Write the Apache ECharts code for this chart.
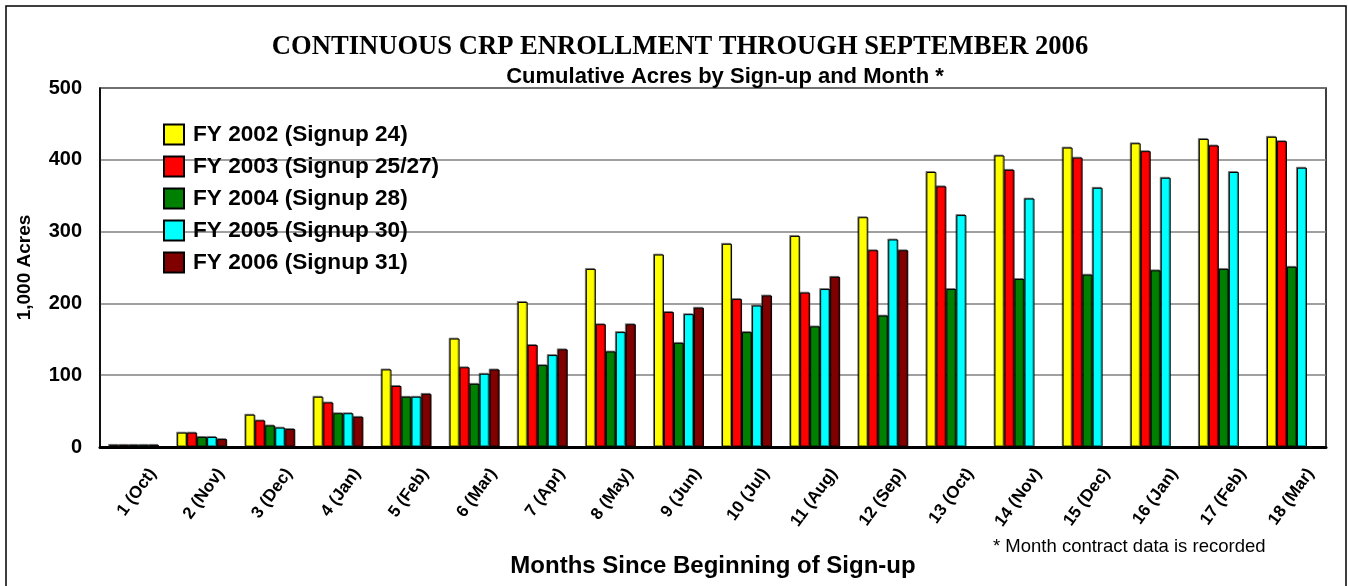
<!DOCTYPE html>
<html>
<head>
<meta charset="utf-8">
<script src="https://cdn.jsdelivr.net/npm/echarts@6/dist/echarts.min.js"></script>
<style>
  html, body { margin: 0; padding: 0; background: #fff; }
  #main { width: 1348px; height: 586px; }
</style>
</head>
<body>
<div id="main"></div>
<script>
var months = ['1 (Oct)', '2 (Nov)', '3 (Dec)', '4 (Jan)', '5 (Feb)', '6 (Mar)', '7 (Apr)', '8 (May)', '9 (Jun)',
  '10 (Jul)', '11 (Aug)', '12 (Sep)', '13 (Oct)', '14 (Nov)', '15 (Dec)', '16 (Jan)', '17 (Feb)', '18 (Mar)'];
var fy2002 = [3, 20, 45, 70, 108, 151, 202, 248, 268, 283, 294, 320, 383, 406, 417, 423, 429, 432];
var fy2003 = [3, 20, 37, 62, 85, 111, 142, 171, 188, 206, 215, 274, 363, 386, 403, 412, 420, 426];
var fy2004 = [3, 14, 30, 47, 70, 88, 114, 133, 145, 160, 168, 183, 220, 234, 240, 246, 248, 251];
var fy2005 = [3, 14, 27, 47, 70, 102, 128, 160, 185, 197, 220, 289, 323, 346, 361, 375, 383, 389];
var fy2006 = [3, 11, 25, 42, 74, 108, 136, 171, 194, 211, 237, 274, null, null, null, null, null, null];
var seriesNames = ['FY 2002 (Signup 24)', 'FY 2003 (Signup 25/27)', 'FY 2004 (Signup 28)',
  'FY 2005 (Signup 30)', 'FY 2006 (Signup 31)'];
var colors = ['#ffff00', '#ff0000', '#008000', '#00ffff', '#800000'];
var yTicks = [0, 100, 200, 300, 400, 500];

var chartDom = document.getElementById('main');
var myChart = echarts.init(chartDom);
var option;

var font = 'Liberation Sans, Arial, sans-serif';
var allData = [fy2002, fy2003, fy2004, fy2005, fy2006];

function makeSeries(i) {
  return {
    name: seriesNames[i],
    type: 'bar',
    data: allData[i],
    barWidth: 10,
    barGap: '0%',
    itemStyle: {
      color: colors[i],
      borderColor: '#000',
      borderWidth: 1,
      shadowColor: 'rgba(0,0,0,0.4)',
      shadowOffsetX: -1,
      shadowOffsetY: -1
    }
  };
}

option = {
  animation: false,
  title: [
    {
      text: 'CONTINUOUS CRP ENROLLMENT THROUGH SEPTEMBER 2006',
      left: 675,
      textAlign: 'center',
      top: 29,
      textStyle: { fontFamily: 'Liberation Serif, Times New Roman, serif', fontWeight: 'bold', fontSize: 26.6, color: '#000' }
    },
    {
      text: 'Cumulative Acres by Sign-up and Month *',
      left: 720,
      textAlign: 'center',
      top: 61,
      textStyle: { fontFamily: font, fontWeight: 'bold', fontSize: 22, color: '#000' }
    }
  ],
  legend: {
    orient: 'vertical',
    left: 158,
    top: 118,
    itemWidth: 20,
    itemHeight: 20,
    itemGap: 9,
    icon: 'rect',
    data: seriesNames,
    textStyle: { fontFamily: font, fontWeight: 'bold', fontSize: 22.6, lineHeight: 22, padding: [0, 0, 0, 4], color: '#000' }
  },
  grid: {
    left: 100,
    top: 88,
    width: 1226,
    height: 359,
    outerBoundsMode: 'none',
    show: true,
    borderColor: '#000',
    borderWidth: 1.5,
    backgroundColor: 'transparent'
  },
  xAxis: {
    type: 'category',
    data: months,
    name: 'Months Since Beginning of Sign-up',
    nameLocation: 'middle',
    nameGap: 107,
    nameTextStyle: { fontFamily: font, fontWeight: 'bold', fontSize: 24, color: '#000' },
    axisLine: { lineStyle: { color: '#000', width: 3 } },
    axisTick: { show: false },
    axisLabel: {
      rotate: 54,
      margin: 10,
      interval: 0,
      hideOverlap: false,
      verticalAlign: 'top',
      lineHeight: 46,
      fontFamily: font,
      fontWeight: 'bold',
      fontSize: 17,
      color: '#000'
    }
  },
  yAxis: {
    type: 'value',
    min: yTicks[0],
    max: yTicks[yTicks.length - 1],
    interval: 100,
    name: '1,000 Acres',
    nameLocation: 'middle',
    nameRotate: 90,
    nameGap: 66,
    nameTextStyle: { fontFamily: font, fontWeight: 'bold', fontSize: 19, color: '#000' },
    axisLine: { show: true, lineStyle: { color: '#000', width: 1.5 } },
    axisTick: { show: false },
    axisLabel: { margin: 18, fontFamily: font, fontWeight: 'bold', fontSize: 20, color: '#000' },
    splitLine: { lineStyle: { color: '#808080', width: 1.5 } }
  },
  graphic: [
    {
      type: 'rect',
      shape: { x: 6, y: 6, width: 1340, height: 600 },
      style: { fill: null, stroke: '#000', lineWidth: 1.5 },
      silent: true
    },
    {
      type: 'text',
      left: 993,
      top: 537,
      style: { text: '* Month contract data is recorded', fontFamily: font, fontSize: 18.5, fill: '#000' }
    }
  ],
  series: [0, 1, 2, 3, 4].map(makeSeries)
};

option && myChart.setOption(option);
</script>
</body>
</html>
